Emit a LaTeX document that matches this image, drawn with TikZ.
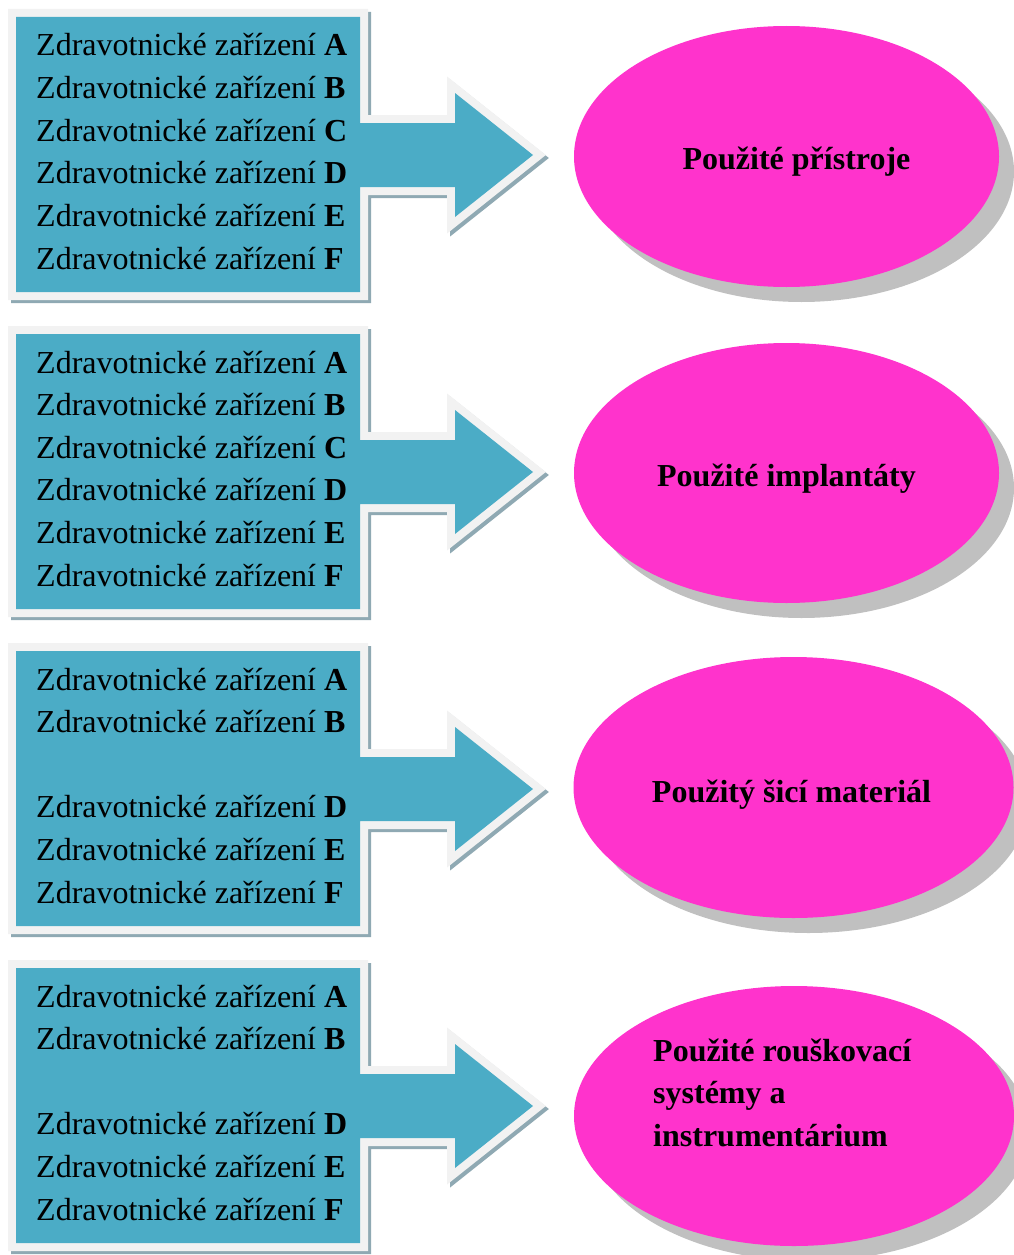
\documentclass[tikz,border=0pt]{standalone}
\usepackage{fontspec}
\setmainfont{Liberation Serif}
\usetikzlibrary{shapes.geometric,shadows}

\definecolor{boxblue}{HTML}{4BACC6}
\definecolor{rimgray}{HTML}{F2F2F2}
\definecolor{rimshade}{HTML}{8FA9B3}
\definecolor{ovalpink}{HTML}{FF33CC}
\definecolor{ovalshade}{HTML}{C0C0C0}

\newcommand{\sipkatvar}{(16,17) -- (360,17) -- (360,123) -- (455,123) -- (455,93) -- (533,155) -- (455,217) -- (455,187) -- (360,187) -- (360,292) -- (16,292) -- cycle}

\tikzset{
  zarizeni/.style={anchor=base west, inner sep=0pt, font=\fontsize{32}{38}\selectfont},
  nazev/.style={inner sep=0pt, font=\fontsize{32}{38}\selectfont\bfseries},
  ovalshape/.style={ellipse, fill=ovalpink, inner sep=0pt,
    drop shadow={shadow xshift=15pt, shadow yshift=-15pt, opacity=1, fill=ovalshade}},
}

\begin{document}
\begin{tikzpicture}[x=1pt,y=-1pt]
\useasboundingbox (0,0) rectangle (1014,1255);

% Sipky
\foreach \i in {0,1,2,3}{
  \begin{scope}[shift={(0,317*\i)}]
    \draw[rimshade, line width=16pt, shift={(3,3)}] \sipkatvar;
    \draw[rimgray, line width=16pt] \sipkatvar;
    \fill[boxblue] \sipkatvar;
  \end{scope}
}

% Zarizeni
\foreach \i in {0,1}
  \foreach \p/\k in {A/0,B/1,C/2,D/3,E/4,F/5}
    \node[zarizeni] (z\i\p) at (36,56+317*\i+42.6*\k) {Zdravotnické zařízení \textbf{\p}};
\foreach \i in {2,3}
  \foreach \p/\k in {A/0,B/1,D/3,E/4,F/5}
    \node[zarizeni] (z\i\p) at (36,56+317*\i+42.6*\k) {Zdravotnické zařízení \textbf{\p}};

% Ovaly
\node[ovalshape, minimum width=425pt, minimum height=261pt] (pristroje) at (786.5,156.5) {};
\node[ovalshape, minimum width=425pt, minimum height=260pt] (implantaty) at (786.5,473) {};
\node[ovalshape, minimum width=440pt, minimum height=261pt] (material) at (793.5,787.5) {};
\node[ovalshape, minimum width=440pt, minimum height=260pt] (rouskovani) at (794,1116) {};

% Popisky
\node[nazev, anchor=base] (tpristroje) at (796.5,169) {Použité přístroje};
\node[nazev, anchor=base] (timplantaty) at (786.5,486) {Použité implantáty};
\node[nazev, anchor=base] (tmaterial) at (791.5,802) {Použitý šicí materiál};
\node[nazev, anchor=base west] (trouska) at (653,1061) {Použité rouškovací};
\node[nazev, anchor=base west] (trouskb) at (653,1103) {systémy a};
\node[nazev, anchor=base west] (trouskc) at (653,1146) {instrumentárium};
\end{tikzpicture}
\end{document}
